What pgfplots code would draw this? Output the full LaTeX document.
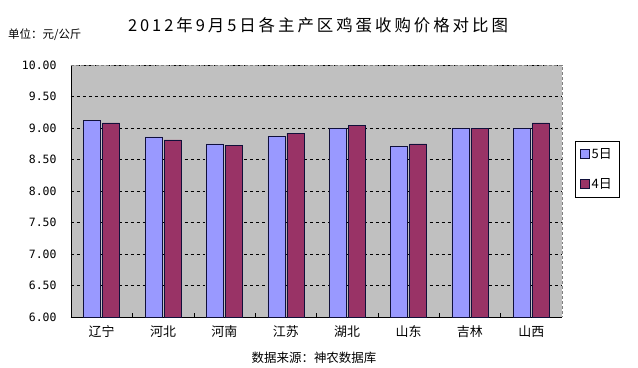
\documentclass[border=0pt]{standalone}
\usepackage{pgfplots}
\pgfplotsset{compat=1.18}
\usepackage{fontspec}
\setmainfont{Liberation Sans}
\newfontfamily\cjk{Noto Sans CJK SC}
\newfontfamily\cjktitle[LetterSpace=18]{Noto Sans CJK SC}
\newfontfamily\tickfont{DejaVu Sans Mono}
\definecolor{c5}{HTML}{9999FF}
\definecolor{c4}{HTML}{993366}
\definecolor{bg}{HTML}{C0C0C0}
\definecolor{edge}{HTML}{10103A}
\begin{document}
\begin{tikzpicture}[x=1bp,y=1bp]
\useasboundingbox (-71,-50) rectangle (567,317);
\begin{axis}[
  at={(0,0)}, anchor=south west,
  scale only axis, width=491bp, height=252bp,
  ybar, bar width=17bp,
  xmin=-0.5, xmax=7.5, ymin=6, ymax=10,
  xtick={0,...,7},
  xticklabels={辽宁,河北,河南,江苏,湖北,山东,吉林,山西},
  xticklabel style={font=\cjk\fontsize{13}{14}\selectfont, yshift=-5bp},
  major x tick style={draw=none},
  minor xtick={0.5,1.5,...,6.5},
  minor x tick style={black, thin},
  minor tick length=4bp,
  ytick={6,6.5,...,10},
  yticklabel style={font=\tickfont\fontsize{11.5}{12}\selectfont, xshift=-11bp},
  /pgf/number format/.cd, fixed, fixed zerofill, precision=2, assume math mode=true,
  /pgfplots/.cd,
  ymajorgrids, grid style={black, dashed, thin},
  major y tick style={black}, major tick length=3bp,
  tick align=inside,
  axis x line*=bottom, axis y line*=left,
  axis line style={black, thin},
  axis background/.style={fill=bg},
  legend style={at={(1.0265,0.698)}, anchor=north west, draw=black, thin,
    font=\cjk\fontsize{13}{14}\selectfont, row sep=15bp, inner xsep=5bp, inner ysep=5bp,
    legend cell align=left},
  legend image code/.code={\draw[#1, draw=edge] (0bp,-4bp) rectangle (9bp,5bp);},
  clip=false,
]
\addplot[fill=c5, draw=edge, thin] coordinates {(0,9.12) (1,8.86) (2,8.75) (3,8.87) (4,9.00) (5,8.71) (6,9.00) (7,9.00)};
\addplot[fill=c4, draw=edge, thin] coordinates {(0,9.08) (1,8.81) (2,8.73) (3,8.92) (4,9.04) (5,8.75) (6,9.00) (7,9.08)};
\legend{5日,4日}
\draw[gray, densely dashed, thin] (rel axis cs:0,1) -- (rel axis cs:1,1) -- (rel axis cs:1,0);
\end{axis}
\node[font=\cjktitle\fontsize{16.5}{17}\selectfont, anchor=center] at (247,292) {2012年9月5日各主产区鸡蛋收购价格对比图};
\node[font=\cjk\fontsize{11.5}{12}\selectfont, anchor=west, inner sep=0pt] at (-63,282) {单位：元/公斤};
\node[font=\cjk\fontsize{12.5}{13}\selectfont, anchor=center] at (243,-41) {数据来源：神农数据库};
\end{tikzpicture}
\end{document}
